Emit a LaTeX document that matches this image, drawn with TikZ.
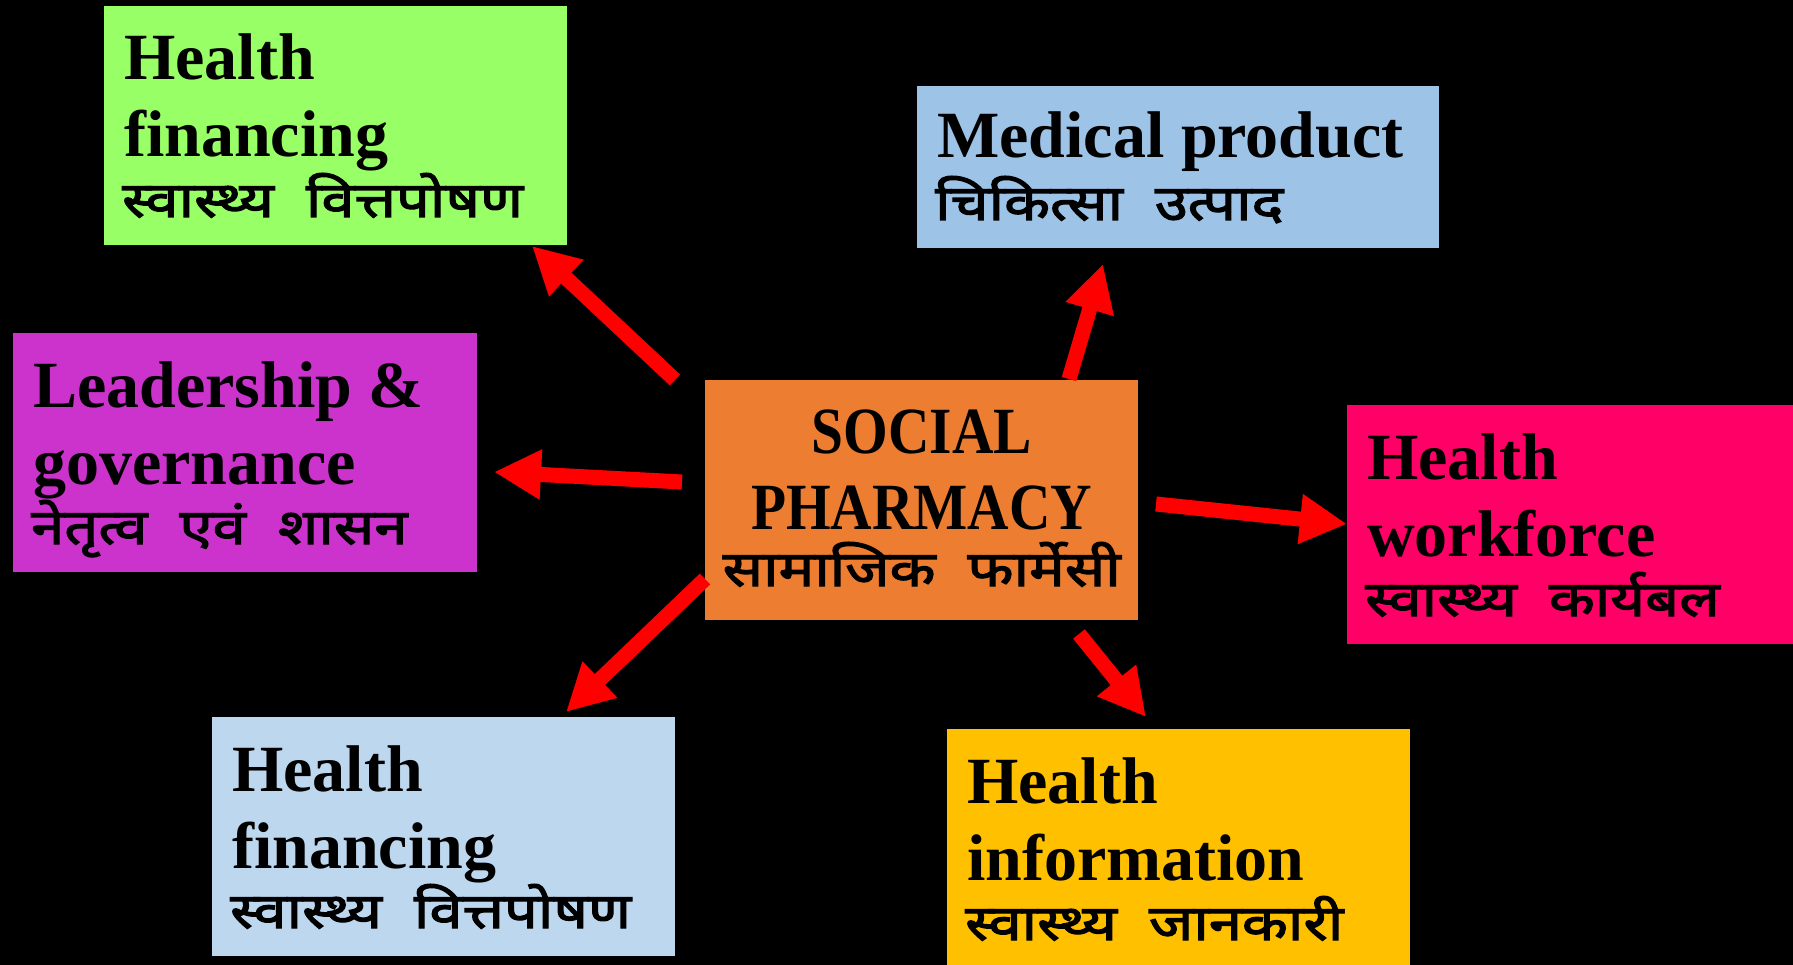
\documentclass[tikz,border=0pt]{standalone}
\usepackage{fontspec}
\setmainfont{Liberation Serif}
\newfontfamily\capsfont[FakeStretch=0.87]{Liberation Serif}
\newfontfamily\dev[Script=Devanagari,FakeBold=2.5,FakeStretch=1.22]{Noto Sans}
\usetikzlibrary{arrows.meta,calc}
\definecolor{cgreen}{HTML}{99FF66}
\definecolor{cmed}{HTML}{9DC3E6}
\definecolor{cpurple}{HTML}{CC33CC}
\definecolor{corange}{HTML}{ED7D31}
\definecolor{cpink}{HTML}{FF0066}
\definecolor{clblue}{HTML}{BDD7EE}
\definecolor{cgold}{HTML}{FFC000}
\definecolor{cred}{HTML}{FF0000}
\newcommand{\dgap}{\hspace{32pt}}
\begin{document}
\begin{tikzpicture}[x=1pt,y=-1pt,
  box/.style={draw=none,inner sep=0pt,anchor=north west,minimum width=463pt,minimum height=239pt},
  lat/.style={inner sep=0pt,font=\fontsize{66}{78}\selectfont\bfseries,text=black},
  latcaps/.style={inner sep=0pt,font=\fontsize{66}{78}\selectfont\capsfont\bfseries,text=black},
  dv/.style={inner sep=0pt,font=\fontsize{49}{58}\selectfont\dev,text=black},
  arr/.style={draw=cred,line width=15pt,-{Triangle[length=47pt,width=47pt]}}]
\fill[black] (0,0) rectangle (1793,965);
\useasboundingbox (0,0) rectangle (1793,965);
% boxes
\node[box,fill=cgreen] (g) at (104,6) {};
\node[box,fill=cmed,minimum width=522pt,minimum height=162pt] (m) at (917,86) {};
\node[box,fill=cpurple,minimum width=464pt] (p) at (13,333) {};
\node[box,fill=corange,minimum width=433pt,minimum height=240pt] (o) at (705,380) {};
\node[box,fill=cpink,minimum width=446pt] (k) at (1347,405) {};
\node[box,fill=clblue] (b) at (212,717) {};
\node[box,fill=cgold,minimum height=236pt] (y) at (947,729) {};
% texts
\node[lat,anchor=base west] (g1) at ($(g.north west)+(20,74)$) {Health};
\node[lat,anchor=base west] (g2) at ($(g.north west)+(20,151)$) {financing};
\node[dv,anchor=base west] (g3) at ($(g.north west)+(18,211)$) {स्वास्थ्य\dgap वित्तपोषण};
\node[lat,anchor=base west] (m1) at ($(m.north west)+(20,72)$) {Medical product};
\node[dv,anchor=base west] (m2) at ($(m.north west)+(18,134)$) {चिकित्सा\dgap उत्पाद};
\node[lat,anchor=base west] (p1) at ($(p.north west)+(20,74)$) {Leadership \&};
\node[lat,anchor=base west] (p2) at ($(p.north west)+(20,151)$) {governance};
\node[dv,anchor=base west] (p3) at ($(p.north west)+(18,211)$) {नेतृत्व\dgap एवं\dgap शासन};
\node[latcaps,anchor=base] (o1) at ($(o.north)+(0,73)$) {SOCIAL};
\node[latcaps,anchor=base] (o2) at ($(o.north)+(0,149)$) {PHARMACY};
\node[dv,anchor=base] (o3) at ($(o.north)+(0,206)$) {सामाजिक\dgap फार्मेसी};
\node[lat,anchor=base west] (k1) at ($(k.north west)+(20,74)$) {Health};
\node[lat,anchor=base west] (k2) at ($(k.north west)+(20,151)$) {workforce};
\node[dv,anchor=base west] (k3) at ($(k.north west)+(18,211)$) {स्वास्थ्य\dgap कार्यबल};
\node[lat,anchor=base west] (b1) at ($(b.north west)+(20,74)$) {Health};
\node[lat,anchor=base west] (b2) at ($(b.north west)+(20,151)$) {financing};
\node[dv,anchor=base west] (b3) at ($(b.north west)+(18,211)$) {स्वास्थ्य\dgap वित्तपोषण};
\node[lat,anchor=base west] (y1) at ($(y.north west)+(20,74)$) {Health};
\node[lat,anchor=base west] (y2) at ($(y.north west)+(20,151)$) {information};
\node[dv,anchor=base west] (y3) at ($(y.north west)+(18,211)$) {स्वास्थ्य\dgap जानकारी};
% arrow endpoints
\coordinate (a1s) at (675,380); \coordinate (a1e) at (532,246);
\coordinate (a2s) at (1069,379); \coordinate (a2e) at (1103,264);
\coordinate (a3s) at (682,482); \coordinate (a3e) at (494,472);
\coordinate (a4s) at (1156,504); \coordinate (a4e) at (1347,524);
\coordinate (a5s) at (705,579); \coordinate (a5e) at (566,712);
\coordinate (a6s) at (1079,634); \coordinate (a6e) at (1146,717);
\draw[arr] (a1s) -- (a1e);
\draw[arr] (a2s) -- (a2e);
\draw[arr] (a3s) -- (a3e);
\draw[arr] (a4s) -- (a4e);
\draw[arr] (a5s) -- (a5e);
\draw[arr] (a6s) -- (a6e);
\end{tikzpicture}
\end{document}
